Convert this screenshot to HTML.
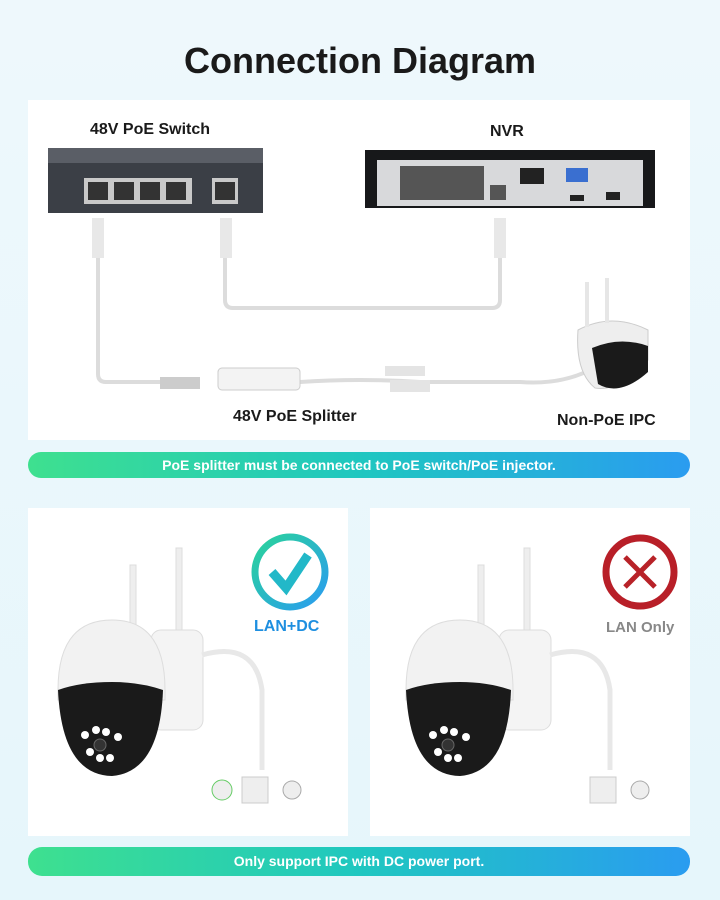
<!DOCTYPE html>
<html><head><meta charset="utf-8"><style>
body{margin:0;width:720px;height:900px;overflow:hidden;background:linear-gradient(180deg,#eef8fc,#e6f6fb);font-family:"Liberation Sans",sans-serif;position:relative}
.t{position:absolute;font-weight:bold;color:#1a1a1a;white-space:nowrap}
.bar{position:absolute;left:28px;width:662px;border-radius:14px;background:linear-gradient(90deg,#3ee08f,#1fc7c0 50%,#2a9cf0);color:#fff;font-weight:bold;font-size:14px;text-align:center}
.pan{position:absolute;background:#fff}
</style></head><body>
<div class="t" style="left:0;width:720px;text-align:center;top:40px;font-size:36px">Connection Diagram</div>
<div class="pan" style="left:28px;top:100px;width:662px;height:340px"></div>
<div class="bar" style="top:452px;height:26px;line-height:26px">PoE splitter must be connected to PoE switch/PoE injector.</div>
<div class="pan" style="left:28px;top:508px;width:320px;height:328px"></div>
<div class="pan" style="left:370px;top:508px;width:320px;height:328px"></div>
<div class="bar" style="top:847px;height:29px;line-height:29px">Only support IPC with DC power port.</div>
<div class="t" style="left:90px;top:121px;font-size:16px">48V PoE Switch</div>
<div class="t" style="left:490px;top:123px;font-size:16px">NVR</div>
<div class="t" style="left:233px;top:408px;font-size:16px">48V PoE Splitter</div>
<div class="t" style="left:557px;top:412px;font-size:16px">Non-PoE IPC</div>
<div class="t" style="left:254px;top:618px;font-size:16px;color:#1e8fe0">LAN+DC</div>
<div class="t" style="left:606px;top:619px;font-size:15px;color:#888">LAN Only</div>
<svg style="position:absolute;left:0;top:0" width="720" height="900">
<defs><linearGradient id="g" x1="0" y1="0" x2="1" y2="1"><stop offset="0" stop-color="#2ad39a"/><stop offset="1" stop-color="#2a9cf0"/></linearGradient></defs>
<g fill="none" stroke="#dcdcdc" stroke-width="4">
<path d="M98 225 V374 Q98 382 106 382 H160"/>
<path d="M225 225 V300 Q225 308 233 308 H492 Q500 308 500 300 V235"/>
<path d="M300 382 Q360 378 420 382 H520 Q560 385 590 370"/>
</g>
<rect x="48" y="148" width="215" height="20" fill="#5a5e66"/>
<rect x="48" y="163" width="215" height="50" fill="#3b3f46"/>
<rect x="84" y="178" width="108" height="26" fill="#c9c9c9"/>
<rect x="212" y="178" width="26" height="26" fill="#c9c9c9"/>
<g fill="#333"><rect x="88" y="182" width="20" height="18"/><rect x="114" y="182" width="20" height="18"/><rect x="140" y="182" width="20" height="18"/><rect x="166" y="182" width="20" height="18"/><rect x="215" y="182" width="20" height="18"/></g>
<rect x="92" y="218" width="12" height="40" fill="#e8e8e8"/><rect x="220" y="218" width="12" height="40" fill="#e8e8e8"/><rect x="494" y="218" width="12" height="40" fill="#e8e8e8"/>
<rect x="365" y="150" width="290" height="58" fill="#17181a"/>
<rect x="377" y="160" width="266" height="46" fill="#d8d9db"/>
<g fill="#555"><rect x="400" y="166" width="84" height="34"/><rect x="490" y="185" width="16" height="15"/><rect x="520" y="168" width="24" height="16" fill="#222"/><rect x="566" y="168" width="22" height="14" fill="#3a6fd0"/><rect x="570" y="195" width="14" height="6" fill="#222"/><rect x="606" y="192" width="14" height="8" fill="#222"/></g>
<rect x="218" y="368" width="82" height="22" rx="4" fill="#f3f3f3" stroke="#ccc"/>
<rect x="160" y="377" width="40" height="12" fill="#ccc"/>
<rect x="385" y="366" width="40" height="10" fill="#e4e4e4"/><rect x="390" y="380" width="40" height="12" fill="#e4e4e4"/>
<path d="M578 330 Q612 312 648 330 V360 Q620 392 595 388 Q575 372 578 330Z" fill="#eee" stroke="#ccc"/>
<path d="M592 348 Q620 336 648 346 V372 Q620 397 598 384Z" fill="#1a1a1a"/>
<rect x="585" y="282" width="4" height="45" fill="#e6e6e6"/><rect x="605" y="278" width="4" height="45" fill="#e6e6e6"/>
<circle cx="290" cy="572" r="35" fill="none" stroke="url(#g)" stroke-width="7"/>
<path d="M272 572 L286 588 L308 555" fill="none" stroke="#22b8c8" stroke-width="9"/>
<circle cx="640" cy="572" r="34" fill="none" stroke="#b81f28" stroke-width="7"/>
<path d="M625 557 L655 587 M655 557 L625 587" stroke="#b82228" stroke-width="5"/>
<g id="cam">
<rect x="130" y="565" width="6" height="100" fill="#eee" stroke="#ddd"/><rect x="176" y="548" width="6" height="120" fill="#eee" stroke="#ddd"/>
<rect x="151" y="630" width="52" height="100" rx="10" fill="#f4f4f4" stroke="#ddd"/>
<path d="M58 690 Q58 620 112 620 Q165 620 165 690 V700 H58Z" fill="#f2f2f2" stroke="#ddd"/>
<path d="M58 690 Q62 775 112 776 Q160 772 163 690 Q140 682 112 682 Q80 682 58 690Z" fill="#1a1a1a"/>
<g fill="#fff"><circle cx="85" cy="735" r="4"/><circle cx="96" cy="730" r="4"/><circle cx="106" cy="732" r="4"/><circle cx="118" cy="737" r="4"/><circle cx="90" cy="752" r="4"/><circle cx="100" cy="758" r="4"/><circle cx="110" cy="758" r="4"/></g>
<circle cx="100" cy="745" r="6" fill="#333" stroke="#666"/>
<path d="M202 655 Q255 640 262 690 V770" fill="none" stroke="#e8e8e8" stroke-width="5"/>
</g>
<use href="#cam" x="348"/>
<circle cx="222" cy="790" r="10" fill="#eee" stroke="#6c6"/><rect x="242" y="777" width="26" height="26" fill="#eee" stroke="#ccc"/><circle cx="292" cy="790" r="9" fill="#eee" stroke="#aaa"/>
<rect x="590" y="777" width="26" height="26" fill="#eee" stroke="#ccc"/><circle cx="640" cy="790" r="9" fill="#eee" stroke="#aaa"/>
</svg>
</body></html>
